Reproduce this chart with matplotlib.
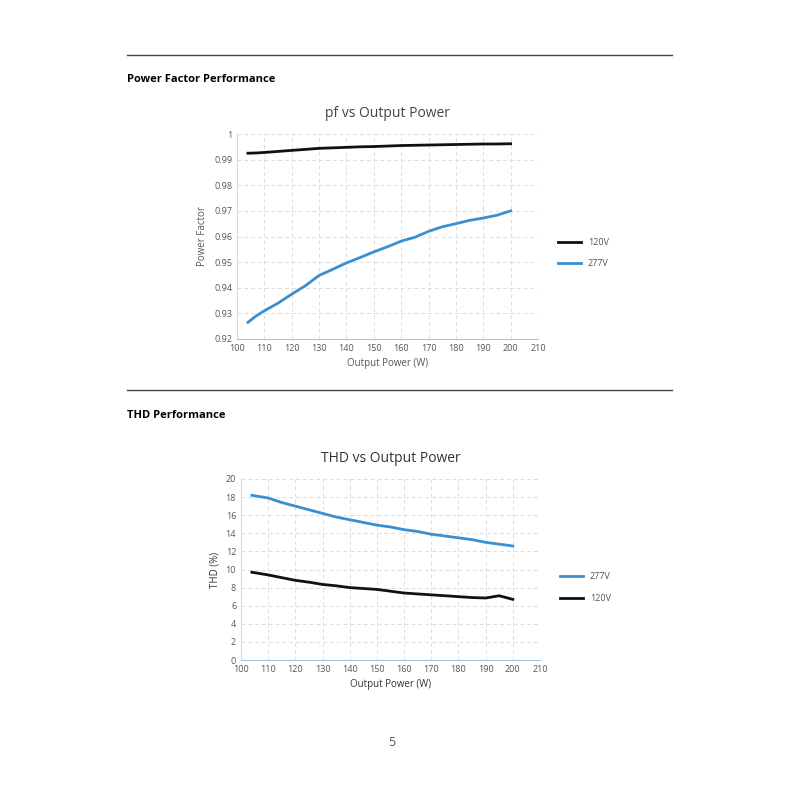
import numpy as np
import matplotlib.pyplot as plt

plt.rcParams['font.family'] = ['Open Sans', 'DejaVu Sans']

# pf data
pf_w = [104, 107, 110, 115, 120, 125, 130, 135, 140, 145, 150, 155, 160, 165, 170, 175, 180, 185, 190, 195, 200]
pf_120 = [0.9925, 0.9926, 0.9928, 0.9932, 0.9936, 0.9940, 0.9944, 0.9946, 0.9948, 0.9950, 0.9951, 0.9953, 0.9955, 0.9956, 0.9957, 0.9958, 0.9959, 0.9960, 0.9961, 0.9961, 0.9962]
pf_277 = [0.9265, 0.929, 0.931, 0.934, 0.9375, 0.9408, 0.9448, 0.9472, 0.9497, 0.9518, 0.9540, 0.9560, 0.9582, 0.9597, 0.9620, 0.9638, 0.9650, 0.9663, 0.9672, 0.9683, 0.9700]

# THD data
thd_w = [104, 110, 115, 120, 125, 130, 135, 140, 145, 150, 155, 160, 165, 170, 175, 180, 185, 190, 195, 200]
thd_277 = [18.2, 17.9, 17.4, 17.0, 16.6, 16.2, 15.8, 15.5, 15.2, 14.9, 14.7, 14.4, 14.2, 13.9, 13.7, 13.5, 13.3, 13.0, 12.8, 12.6]
thd_120 = [9.7, 9.4, 9.1, 8.8, 8.6, 8.35, 8.2, 8.0, 7.9, 7.8, 7.6, 7.4, 7.3, 7.2, 7.1, 7.0, 6.9, 6.85, 7.1, 6.7]

BLACK = '#111111'
BLUE = '#3a8fd0'
TXT = '#555555'

fig = plt.figure(figsize=(8, 8), dpi=100)

def rule(y):
    fig.add_artist(plt.Line2D([127/800, 672/800], [1 - y/800, 1 - y/800], color='#444444', lw=1))

rule(55)
fig.text(127/800, 1 - 80/800, 'Power Factor Performance', fontsize=8, fontweight='bold', va='center')
rule(390)
fig.text(127/800, 1 - 415/800, 'THD Performance', fontsize=8, fontweight='bold', va='center')
fig.text(392/800, 1 - 743/800, '5', fontsize=9, color=TXT, ha='center', va='center')

def style(ax):
    ax.grid(True, ls=(0, (4, 3)), color='#dddddd', lw=0.7)
    for s in ['top', 'right']:
        ax.spines[s].set_visible(False)
    ax.spines['left'].set_color('#d9d9d9')
    ax.spines['bottom'].set_color('#a6c4e0')
    ax.tick_params(labelsize=6.5, colors=TXT, length=0)
    for lab in ax.get_xticklabels() + ax.get_yticklabels():
        lab.set_color(TXT)

# chart 1
ax1 = fig.add_axes([237/800, 1 - 339/800, 301/800, 205/800])
ax1.plot(pf_w, pf_120, color=BLACK, lw=2, label='120V')
ax1.plot(pf_w, pf_277, color=BLUE, lw=2, label='277V')
ax1.set_xlim(100, 210)
ax1.set_ylim(0.92, 1.0)
ax1.set_xticks(range(100, 211, 10))
ax1.set_yticks(np.arange(0.92, 1.001, 0.01))
ax1.set_yticklabels(['0.92', '0.93', '0.94', '0.95', '0.96', '0.97', '0.98', '0.99', '1'])
style(ax1)
ax1.set_xlabel('Output Power (W)', fontsize=7, color=TXT)
ax1.set_ylabel('Power Factor', fontsize=7, color=TXT)
ax1.set_title('pf vs Output Power', fontsize=10, color='#444444', pad=12)
ax1.legend(loc='center left', bbox_to_anchor=(1.04, 0.42), frameon=False, fontsize=6.5,
           handlelength=2.5, labelspacing=1.3, labelcolor=TXT)

# chart 2
ax2 = fig.add_axes([241/800, 1 - 660/800, 299/800, 181/800])
ax2.plot(thd_w, thd_277, color=BLUE, lw=2, label='277V')
ax2.plot(thd_w, thd_120, color=BLACK, lw=2, label='120V')
ax2.set_xlim(100, 210)
ax2.set_ylim(0, 20)
ax2.set_xticks(range(100, 211, 10))
ax2.set_yticks(range(0, 21, 2))
style(ax2)
ax2.set_xlabel('Output Power (W)', fontsize=7, color='#333333')
ax2.set_ylabel('THD (%)', fontsize=7, color='#333333')
ax2.set_title('THD vs Output Power', fontsize=10, color='#333333', pad=12)
ax2.legend(loc='center left', bbox_to_anchor=(1.04, 0.40), frameon=False, fontsize=6.5,
           handlelength=2.5, labelspacing=1.4, labelcolor=TXT)

fig.savefig('out.png', dpi=100)
